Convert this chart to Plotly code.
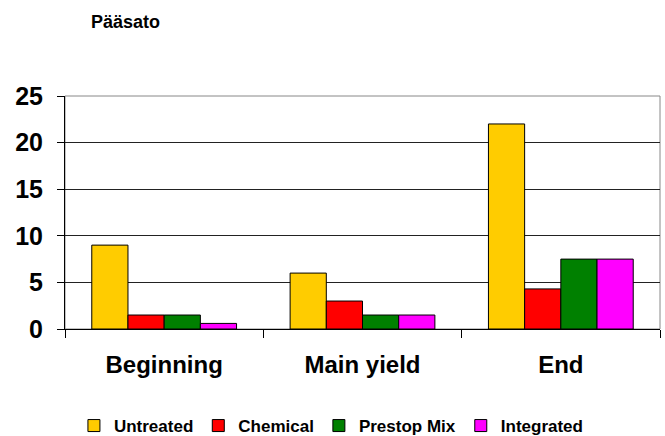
import plotly.graph_objects as go

categories = ["Beginning", "Main yield", "End"]
series_names = ["Untreated", "Chemical", "Prestop Mix", "Integrated"]
untreated = [9.0, 6.0, 22.0]
chemical = [1.5, 3.0, 4.3]
prestop_mix = [1.5, 1.5, 7.5]
integrated = [0.6, 1.5, 7.5]
y_ticks = [0, 5, 10, 15, 20, 25]
colors = ["#FFCC00", "#FF0000", "#008000", "#FF00FF"]

values = [untreated, chemical, prestop_mix, integrated]
FONT = "Liberation Sans, Arial, sans-serif"

fig = go.Figure()
for name, vals, col in zip(series_names, values, colors):
    fig.add_trace(go.Bar(
        x=categories, y=vals, name=name,
        marker=dict(color=col, line=dict(color="#000000", width=1)),
    ))

fig.update_layout(
    width=665, height=436,
    margin=dict(l=65, r=5, t=96, b=107, autoexpand=False),
    paper_bgcolor="white", plot_bgcolor="white",
    barmode="group", bargap=0.27, bargroupgap=0,
    title=dict(text="Pääsato", xref="container", x=91/665, xanchor="left",
               yref="container", y=1 - 22/436, yanchor="middle",
               font=dict(family=FONT, size=18, color="black", weight="bold")),
    legend=dict(orientation="h", x=0.015, xanchor="left", y=-(426 - 329) / 233, yanchor="middle",
                font=dict(family=FONT, size=17, color="black", weight="bold"),
                itemwidth=30, traceorder="normal"),
    xaxis=dict(showline=True, linecolor="black", linewidth=1, ticks="outside",
               tickson="boundaries", ticklen=8, tickcolor="black",
               ticklabelstandoff=14,
               tickfont=dict(family=FONT, size=24, color="black", weight="bold"),
               showgrid=False),
    yaxis=dict(range=[0, 25], tickvals=y_ticks, showline=True, linecolor="black",
               linewidth=1, ticks="outside", ticklen=7, tickcolor="black",
               ticklabelstandoff=9,
               tickfont=dict(family=FONT, size=25, color="black", weight="bold"),
               showgrid=True, gridcolor="#222222", gridwidth=1,
               zeroline=True, zerolinecolor="black", zerolinewidth=1),
)
fig.add_shape(type="rect", xref="paper", yref="paper", x0=0, x1=1, y0=0, y1=1,
              line=dict(color="#888888", width=1), layer="below")
fig.write_html("out.html")
